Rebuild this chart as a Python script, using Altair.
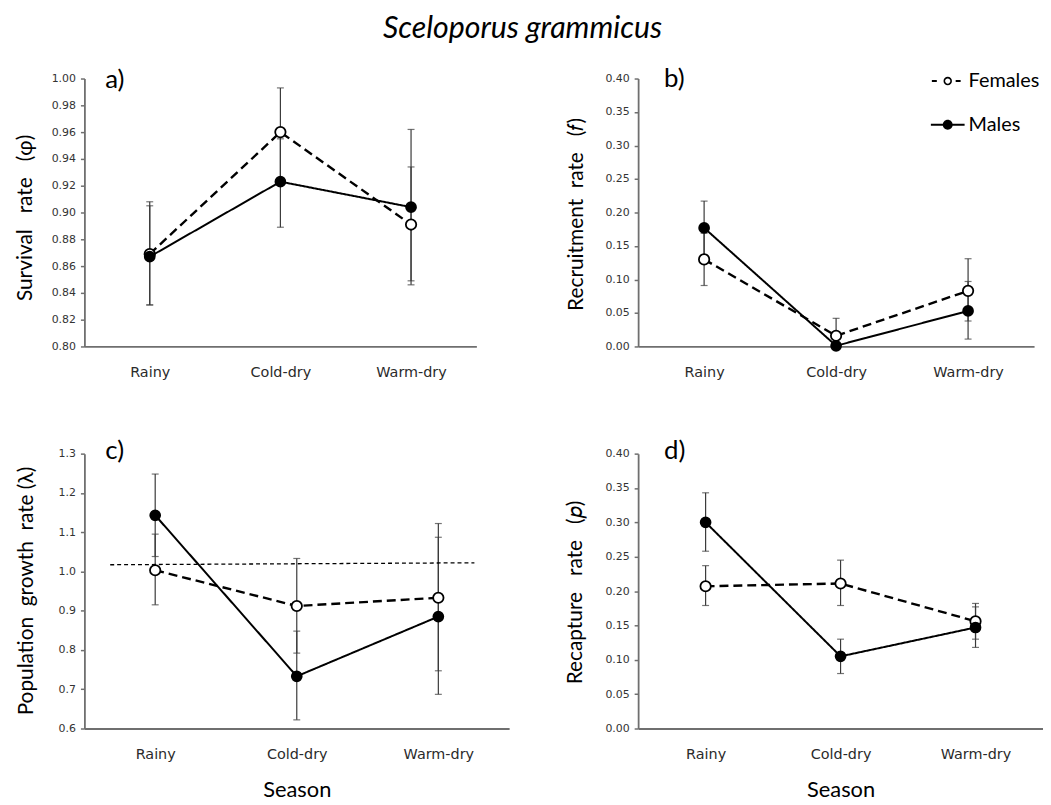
import altair as alt
import pandas as pd

seasons = ["Rainy", "Cold-dry", "Warm-dry"]
sexes = ["Females", "Males"]

# a) Survival rate (phi)
surv_f = [0.869, 0.960, 0.891]
surv_f_lo = [0.831, 0.925, 0.849]
surv_f_hi = [0.908, 0.993, 0.934]
surv_m = [0.867, 0.923, 0.904]
surv_m_lo = [0.831, 0.889, 0.846]
surv_m_hi = [0.905, 0.955, 0.962]

# b) Recruitment rate (f)
recr_f = [0.130, 0.016, 0.083]
recr_f_lo = [0.091, 0.000, 0.038]
recr_f_hi = [0.169, 0.042, 0.131]
recr_m = [0.177, 0.001, 0.053]
recr_m_lo = [0.137, 0.000, 0.011]
recr_m_hi = [0.217, 0.022, 0.097]

# c) Population growth rate (lambda)
grow_f = [1.003, 0.912, 0.933]
grow_f_lo = [0.915, 0.792, 0.747]
grow_f_hi = [1.095, 1.033, 1.122]
grow_m = [1.143, 0.733, 0.885]
grow_m_lo = [1.038, 0.622, 0.687]
grow_m_hi = [1.248, 0.848, 1.087]
ref_line = [1.017, 1.022]

# d) Recapture rate (p)
recap_f = [0.207, 0.211, 0.156]
recap_f_lo = [0.179, 0.179, 0.130]
recap_f_hi = [0.237, 0.245, 0.182]
recap_m = [0.300, 0.105, 0.147]
recap_m_lo = [0.258, 0.080, 0.118]
recap_m_hi = [0.343, 0.130, 0.177]

ticks_a = [0.80, 0.82, 0.84, 0.86, 0.88, 0.90, 0.92, 0.94, 0.96, 0.98, 1.00]
ticks_bd = [0.00, 0.05, 0.10, 0.15, 0.20, 0.25, 0.30, 0.35, 0.40]
ticks_c = [0.6, 0.7, 0.8, 0.9, 1.0, 1.1, 1.2, 1.3]

TXT = "Lato"
TICKF = "DejaVu Sans"
AX = "#6f6f6f"
ERR = "#3a3a3a"
S1 = "\u00a0"
S2 = "\u00a0" * 2
S3 = "\u00a0" * 3

# legend glyphs drawn as filled outlines: "- o -" (open ring) and "-●-"
FEM_PATH = ("M-3.2,-0.2H-2.2V0.2H-3.2Z"
            "M1.6,-0.2H2.6V0.2H1.6Z"
            "M-0.85,0A0.85,0.85,0,1,1,0.85,0A0.85,0.85,0,1,1,-0.85,0Z"
            "M-0.53,0A0.53,0.53,0,1,0,0.53,0A0.53,0.53,0,1,0,-0.53,0Z")
MAL_PATH = ("M-3.4,-0.2H3.4V0.2H-3.4Z"
            "M-1,0A1,1,0,1,1,1,0A1,1,0,1,1,-1,0Z")


def build_df(fm, flo, fhi, mm, mlo, mhi):
    rows = []
    for sex, m, lo, hi in (("Females", fm, flo, fhi), ("Males", mm, mlo, mhi)):
        for s, v, l, h in zip(seasons, m, lo, hi):
            rows.append(dict(Season=s, Sex=sex, value=v, lo=l, hi=h))
    return pd.DataFrame(rows)


def panel(df, ytitle, ydomain, yticks, yfmt, width, height, label, label_x,
          label_y, title_x, title_y, show_xtitle, ref=None, legend=False):
    xaxis = alt.Axis(
        title="Season" if show_xtitle else None,
        labelFont=TICKF, labelFontSize=14.5, labelColor="#2a2a2a",
        labelAngle=0, ticks=False, tickSize=0, labelPadding=19,
        domainColor=AX, domainWidth=1.8,
        titleFont=TXT, titleFontSize=22, titleFontWeight="normal",
        titleColor="black", titleY=62, titleBaseline="middle",
    )
    x = alt.X("Season:N", sort=seasons,
              scale=alt.Scale(type="point", padding=0.5, domain=seasons),
              axis=xaxis)
    yscale = alt.Scale(domain=ydomain, nice=False, zero=False)
    yaxis = alt.Axis(
        values=yticks, format=yfmt, title=ytitle, grid=False,
        labelFont=TICKF, labelFontSize=11, labelColor="#333333",
        labelPadding=5, tickSize=4, tickColor=AX, tickWidth=1.5,
        domainColor=AX, domainWidth=1.8,
        titleFont=TXT, titleFontSize=21, titleFontWeight="normal",
        titleColor="black", titleX=title_x, titleY=title_y,
        titleBaseline="middle", titleAngle=270,
    )

    def Y(field):
        return alt.Y(field, type="quantitative", scale=yscale, axis=yaxis)

    base = alt.Chart(df)
    bars = base.mark_rule(color=ERR, strokeWidth=1.2).encode(
        x=x, y=Y("lo"), y2="hi")
    cap_lo = base.mark_tick(color=ERR, size=7, thickness=1.2).encode(
        x=x, y=Y("lo"))
    cap_hi = base.mark_tick(color=ERR, size=7, thickness=1.2).encode(
        x=x, y=Y("hi"))
    lines = base.mark_line(color="black").encode(
        x=x, y=Y("value"),
        strokeDash=alt.StrokeDash(
            "Sex:N", scale=alt.Scale(domain=sexes, range=[[9, 5], [1, 0]]),
            legend=None),
        strokeWidth=alt.StrokeWidth(
            "Sex:N", scale=alt.Scale(domain=sexes, range=[2.4, 2.0]),
            legend=None),
    )
    pts = base.mark_point(filled=True, stroke="black", strokeWidth=1.8,
                          opacity=1, shape="circle").encode(
        x=x, y=Y("value"),
        fill=alt.condition(alt.datum.Sex == "Females",
                           alt.value("white"), alt.value("black")),
        size=alt.condition(alt.datum.Sex == "Females",
                           alt.value(110), alt.value(100)),
    )
    lab = alt.Chart(pd.DataFrame({"label": [label]})).mark_text(
        font=TXT, fontSize=26, align="left", baseline="alphabetic",
        color="black").encode(
        text="label:N", x=alt.value(label_x), y=alt.value(label_y))
    layers = [bars, cap_lo, cap_hi]
    if ref is not None:
        rdf = pd.DataFrame({"y0": [ref[0]], "y1": [ref[1]]})
        layers.append(
            alt.Chart(rdf).mark_rule(color="black", strokeWidth=1.3,
                                     strokeDash=[4, 3]).encode(
                y=Y("y0"), y2="y1",
                x=alt.value(26), x2=alt.value(393)))
    layers += [lines, pts, lab]
    if legend:
        leg = alt.Legend(
            title=None, orient="none", legendX=302, legendY=-7.5,
            direction="vertical", symbolSize=100,
            symbolFillColor="black", symbolStrokeWidth=0,
            symbolOpacity=1, labelFont=TXT, labelFontSize=20,
            labelColor="black", labelOffset=11, rowPadding=24,
        )
        layers.append(
            base.mark_point(filled=True, opacity=0, size=100,
                            color="black").encode(
                x=x, y=Y("value"),
                shape=alt.Shape("Sex:N", scale=alt.Scale(
                    domain=sexes, range=[FEM_PATH, MAL_PATH]), legend=leg),
            ))
    return alt.layer(*layers).properties(width=width, height=height)


pa = panel(build_df(surv_f, surv_f_lo, surv_f_hi, surv_m, surv_m_lo, surv_m_hi),
           f"Survival{S3}rate{S3}(φ)", [0.80, 1.00], ticks_a, ".2f",
           395, 270, "a)", 21, 10, -59, 140, False)
pb = panel(build_df(recr_f, recr_f_lo, recr_f_hi, recr_m, recr_m_lo, recr_m_hi),
           f"Recruitment{S2}rate{S3}(𝑓)", [0.0, 0.40], ticks_bd, ".2f",
           399, 270, "b)", 26, 9, -62, 136.5, False, legend=True)
pc = panel(build_df(grow_f, grow_f_lo, grow_f_hi, grow_m, grow_m_lo, grow_m_hi),
           f"Population{S2}growth{S2}rate{S1}(λ)", [0.6, 1.3], ticks_c,
           ".1f", 428, 277, "c)", 21, 5, -58.5, 138, True, ref=ref_line)
pd_ = panel(build_df(recap_f, recap_f_lo, recap_f_hi, recap_m, recap_m_lo, recap_m_hi),
            f"Recapture{S3}rate{S3}(𝑝)", [0.0, 0.40], ticks_bd, ".2f",
            408, 277, "d)", 26, 5, -63.5, 139.5, True)

chart = alt.concat(
    pa, pb, pc, pd_, columns=2, bounds="flush",
    spacing={"row": 108, "column": 130},
).resolve_legend(
    shape="independent"
).properties(
    title=alt.TitleParams("Sceloporus grammicus", font=TXT, fontSize=30.5,
                          fontStyle="italic", fontWeight="normal",
                          anchor="middle", dx=-6.5, offset=22.5,
                          color="black"),
    padding={"left": 7, "top": 3, "right": 0, "bottom": 0},
).configure_view(stroke=None)

chart.save("out.html", embed_options={"renderer": "svg", "actions": False})
